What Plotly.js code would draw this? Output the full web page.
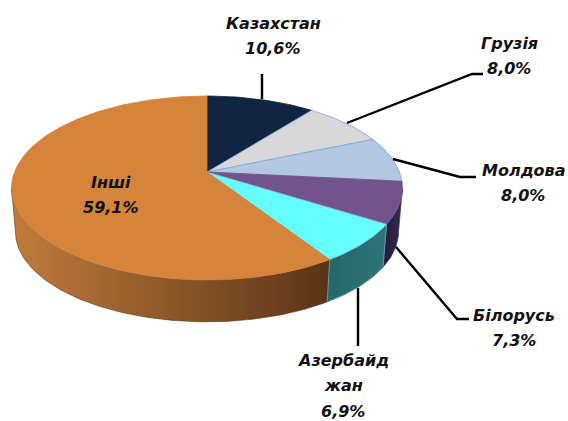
<!DOCTYPE html>
<html><head><meta charset="utf-8">
<script src="https://cdn.plot.ly/plotly-3.0.1.min.js"></script>
<style>html,body{margin:0;padding:0;background:#fff}#c{width:568px;height:421px}</style>
</head><body><div id="c"></div>
<script>
// Data
const categories = ["Казахстан", "Грузія", "Молдова", "Білорусь", "Азербайд\nжан", "Інші"];
const shares = [10.6, 8.0, 8.0, 7.3, 6.9, 59.1];

// Styles
const topColors = ["#10253f", "#d8d8d8", "#b3c7e1", "#70548b", "#66ffff", "#d6833b"];
const topEdges = ["#10253f", "#7fa6dc", "#7fa6dc", "#70548b", "#7fb4dc", "#d6833b"];
const sideGradients = [
  null, null, null,
  ["#3a2a52", "#241a36"],
  ["#2f7478", "#27686a"],
  ["#5a3416", "#c07c3c"]
];

// Perspective disc geometry (pixels)
const CX = 207, CY = 172, A = 192.5, B = 89.2, K = 0.174, DEPTH = 44, SHRINK = 0.98;
const project = (t, lower) => {
  const X = Math.sin(t), Y = Math.cos(t), w = 1 + K * Y;
  const s = lower ? SHRINK : 1;
  return [CX + s * A * X / w, CY + (lower ? DEPTH : 0) - s * B * Y / w];
};
const arc = (t0, t1, lower) => {
  const n = Math.max(2, Math.ceil(Math.abs(t1 - t0) / 0.02));
  const pts = [];
  for (let i = 0; i <= n; i++) pts.push(project(t0 + (t1 - t0) * i / n, lower));
  return pts;
};

const total = shares.reduce((a, b) => a + b, 0);
let acc = 0;
const bounds = shares.map(v => { const s = acc; acc += v; return [s / total * 2 * Math.PI, acc / total * 2 * Math.PI]; });
const edge0 = Math.acos(-K), edge1 = 2 * Math.PI - edge0;

const traces = [];
// Side walls
bounds.forEach((b, i) => {
  const g = sideGradients[i];
  if (!g) return;
  const t0 = Math.max(b[0], edge0), t1 = Math.min(b[1], edge1);
  if (t1 <= t0) return;
  const up = arc(t0, t1, false), low = arc(t1, t0, true);
  const poly = up.concat(low);
  poly.push(up[0]);
  const xs = poly.map(p => p[0]);
  traces.push({
    type: "scatter", mode: "lines", x: xs, y: poly.map(p => p[1]),
    fill: "toself", line: { width: 0.6, color: g[0] }, hoverinfo: "skip",
    fillgradient: {
      type: "horizontal",
      colorscale: [[0, g[1]], [1, g[0]]],
      start: Math.min(...xs), stop: Math.max(...xs)
    }
  });
});
// Side separators
[bounds[4][0], bounds[5][0]].forEach(t => {
  const a = project(t, false), b = project(t, true);
  traces.push({ type: "scatter", mode: "lines", x: [a[0], b[0]], y: [a[1], b[1]],
    line: { width: 1, color: "#5f9aa8" }, hoverinfo: "skip" });
});
// Lower rim highlight on the teal wall
traces.push((() => {
  const t0 = bounds[4][0], t1 = bounds[4][1];
  const p = arc(Math.max(t0, edge0), t1, true);
  return { type: "scatter", mode: "lines", x: p.map(q => q[0]), y: p.map(q => q[1]),
    line: { width: 1, color: "#4d8fb0" }, hoverinfo: "skip" };
})());
// Top face
bounds.forEach((b, i) => {
  const pts = [[CX, CY]].concat(arc(b[0], b[1], false));
  pts.push([CX, CY]);
  traces.push({
    type: "scatter", mode: "lines", x: pts.map(p => p[0]), y: pts.map(p => p[1]),
    fill: "toself", fillcolor: topColors[i],
    line: { width: 0.8, color: topEdges[i] },
    name: categories[i].replace("\n", ""), hoverinfo: "name"
  });
});

// Leader lines (pixel layout)
const leaders = [
  [[262, 74], [262, 99]],
  [[347, 123], [472, 74], [483, 74]],
  [[393, 159], [460, 177], [476, 177]],
  [[396, 247], [457, 319], [469, 319]],
  [[358, 288], [358, 346]]
];
leaders.forEach(l => traces.push({
  type: "scatter", mode: "lines", x: l.map(p => p[0]), y: l.map(p => p[1]),
  line: { width: 2.4, color: "#000" }, hoverinfo: "skip"
}));

// Label positions: centre x, first-line y
const labelAnchors = [[273, 23], [509, 43], [523, 170], [514, 315], [343, 360], [111, 182]];
const LINE = 25.6;
const fmt = v => v.toFixed(1).replace(".", ",") + "%";
const annotations = [];
categories.forEach((c, i) => {
  c.split("\n").concat([fmt(shares[i])]).forEach((txt, j) => {
    annotations.push({
      x: labelAnchors[i][0], y: labelAnchors[i][1] + j * LINE, xref: "x", yref: "y",
      text: "<b><i>" + txt + "</i></b>", showarrow: false, xanchor: "center", yanchor: "middle",
      font: { family: "DejaVu Sans", size: 16, color: "#111" }
    });
  });
});

Plotly.newPlot("c", traces, {
  width: 568, height: 421, margin: { l: 0, r: 0, t: 0, b: 0 },
  paper_bgcolor: "#fff", plot_bgcolor: "#fff", showlegend: false,
  xaxis: { range: [0, 568], visible: false, fixedrange: true },
  yaxis: { range: [421, 0], visible: false, fixedrange: true },
  annotations
}, { displayModeBar: false, staticPlot: true });
</script></body></html>
